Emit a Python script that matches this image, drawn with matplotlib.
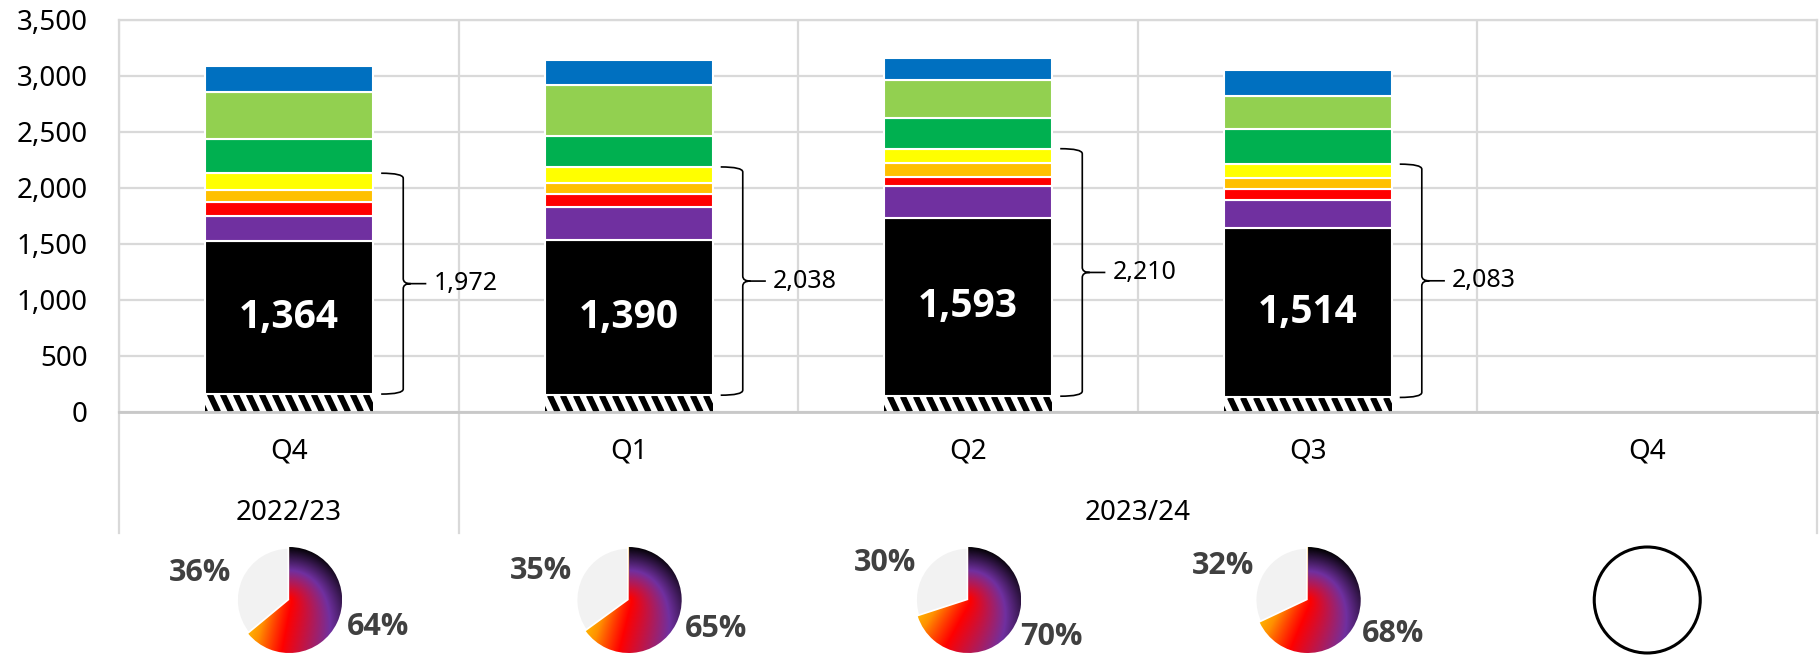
import numpy as np
import matplotlib
matplotlib.use("Agg")
import matplotlib.pyplot as plt
import matplotlib.transforms as mtransforms
from matplotlib.colors import LinearSegmentedColormap
from matplotlib.path import Path
from matplotlib.patches import PathPatch, Circle
from matplotlib.collections import LineCollection

plt.rcParams['font.family'] = ['Noto Sans', 'DejaVu Sans']
bold_family = ['Open Sans', 'Lato', 'DejaVu Sans']

# ---- data ----
quarters = ['Q4', 'Q1', 'Q2', 'Q3', 'Q4']
years = ['2022/23', '2023/24']
year_first = [0, 1]
year_last = [0, 4]

# stacked segments bottom -> top, only the first four quarters have data
hatched = [160, 150, 141, 130]
black = [1364, 1390, 1593, 1514]
purple = [230, 287, 287, 246]
red = [122, 122, 80, 101]
orange = [110, 99, 119, 95]
yellow = [146, 140, 131, 127]
dgreen = [303, 279, 274, 311]
lgreen = [425, 453, 339, 297]
blue = [227, 226, 197, 230]

pie_share = [64, 65, 70, 68]   # % shown in the small pies

seg_colors = ['#000000', '#7030A0', '#FF0000', '#FFC000', '#FFFF00',
              '#00B050', '#92D050', '#0070C0']
grid_col = '#D9D9D9'

# ---- main chart ----
W, H = 1820, 662
fig = plt.figure(figsize=(W / 100, H / 100), dpi=100)
ax = fig.add_axes([119.4 / W, 1 - 412 / H, (1817 - 119.4) / W, 392 / H])

x = np.arange(len(hatched))
bw = 0.495
hbars = ax.bar(x, hatched, bw, color='white', linewidth=0, zorder=2)
bottom = np.array(hatched, dtype=float)
for vals, col in zip([black, purple, red, orange, yellow, dgreen, lgreen, blue], seg_colors):
    ax.bar(x, vals, bw, bottom=bottom, color=col, edgecolor='white', linewidth=1.5, zorder=3)
    bottom += np.array(vals)

ax.set_xlim(-0.5, len(quarters) - 0.5)
ax.set_ylim(0, 3500)
ax.set_yticks(np.arange(0, 3501, 500))
ax.set_yticklabels([f"{v:,}" for v in range(0, 3501, 500)], fontsize=20)
ax.tick_params(axis='y', length=0, pad=23)
ax.set_xticks([])
ax.set_xticks(np.arange(-0.5, len(quarters)), minor=True)
ax.tick_params(axis='x', which='both', length=0)
ax.grid(True, axis='y', color=grid_col, lw=1.6)
ax.grid(True, axis='x', which='minor', color=grid_col, lw=1.6)
ax.set_axisbelow(True)
for side in ['left', 'top', 'right']:
    ax.spines[side].set_color(grid_col)
    ax.spines[side].set_linewidth(1.6)
ax.spines['bottom'].set_color('#C8C8C8')
ax.spines['bottom'].set_linewidth(2)

# steep diagonal stripes on the bottom segment (drawn in pixel space)
for rect in hbars:
    (x0, y0), (x1, y1) = ax.transData.transform([(rect.get_x(), 0),
                                                 (rect.get_x() + rect.get_width(), rect.get_height())])
    hgt = y1 - y0
    run = hgt * 8 / 17
    segs = [[(sx, y1), (sx + run, y0)] for sx in np.arange(x0 - run, x1 + 13, 13)]
    lc = LineCollection(segs, colors='black', linewidths=4.3,
                        transform=mtransforms.IdentityTransform(), zorder=2.5)
    ax.add_collection(lc)
    lc.set_clip_path(rect)

tr = mtransforms.blended_transform_factory(ax.transData, ax.transAxes)

# category labels and year groups under the axis
for i, q in enumerate(quarters):
    ax.text(i, -0.102, q, transform=tr, ha='center', va='center', fontsize=20)
for yr, a, b in zip(years, year_first, year_last):
    ax.text((a + b) / 2, -0.258, yr, transform=tr, ha='center', va='center', fontsize=20)
for xb in sorted(set([a - 0.5 for a in year_first] + [b + 0.5 for b in year_last])):
    ax.plot([xb, xb], [0, -0.309], transform=tr, color=grid_col, lw=1.6, clip_on=False)

# white value labels in the black segment
for i in x:
    ax.text(i, hatched[i] + black[i] / 2, f"{black[i]:,}", color='white',
            fontsize=28, fontweight='bold', family=bold_family,
            ha='center', va='center', zorder=5)


def draw_brace(ax, xc, y0, y1, label):
    x0 = xc + 0.271
    xv = xc + 0.336
    xt = xc + 0.404
    d = 45
    dx = 0.022
    ym = (y0 + y1) / 2
    verts = [(x0, y1), (xv, y1), (xv, y1 - d), (xv, ym + d), (xv, ym), (xv + dx, ym),
             (xt, ym),
             (xv + dx, ym), (xv, ym), (xv, ym - d), (xv, y0 + d), (xv, y0), (x0, y0)]
    codes = [Path.MOVETO, Path.CURVE3, Path.CURVE3, Path.LINETO, Path.CURVE3, Path.CURVE3,
             Path.LINETO,
             Path.MOVETO, Path.CURVE3, Path.CURVE3, Path.LINETO, Path.CURVE3, Path.CURVE3]
    ax.add_patch(PathPatch(Path(verts, codes), fill=False, lw=1.2, color='black', zorder=4))
    ax.text(xc + 0.425, ym, label, ha='left', va='center', fontsize=18, zorder=4)


for i in x:
    total = black[i] + purple[i] + red[i] + orange[i] + yellow[i]
    draw_brace(ax, i, hatched[i], hatched[i] + total, f"{total:,}")

# ---- small pies under each quarter ----
grad = LinearSegmentedColormap.from_list(
    'grad', [(0, '#FFD400'), (0.2, '#FF9000'), (0.4, '#FF0000'), (0.72, '#7030A0'), (1, '#000000')])
gx, gy = np.meshgrid(np.linspace(-1, 1, 300), np.linspace(-1, 1, 300))
rr = np.clip(np.hypot(gx, gy), 0, 1)
ang = (90 - np.degrees(np.arctan2(gy, gx))) % 360

pie_px = 130
lim = pie_px / (2 * 53)
pie_cy = 600
for i in range(len(quarters)):
    cx = ax.transData.transform((i, 0))[0]
    pax = fig.add_axes([(cx - pie_px / 2) / W, (H - pie_cy - pie_px / 2) / H, pie_px / W, pie_px / H])
    pax.set_xlim(-lim, lim)
    pax.set_ylim(-lim, lim)
    pax.set_aspect('equal')
    pax.axis('off')
    if i >= len(pie_share):
        pax.add_patch(Circle((0, 0), 1, fill=False, ec='black', lw=2.2))
        continue
    s = pie_share[i]
    wedges, texts = pax.pie([s, 100 - s], startangle=90, counterclock=False,
                            colors=['none', '#F2F2F2'], labels=[f"{s}%", f"{100 - s}%"],
                            labeldistance=1.2,
                            wedgeprops=dict(edgecolor='white', linewidth=2.5),
                            textprops=dict(fontsize=22, fontweight='bold', color='#404040',
                                           family=bold_family))
    a = np.clip(ang / (s / 100 * 360), 0, 1)
    t = np.clip(0.38 + 0.62 * rr - 0.9 * rr * a ** 2, 0, 1)
    im = pax.imshow(t, extent=(-1, 1, -1, 1), origin='lower', cmap=grad, vmin=0, vmax=1, zorder=1)
    im.set_clip_path(wedges[0])
    wedges[0].set_edgecolor('none')
    pax.set_xlim(-lim, lim)
    pax.set_ylim(-lim, lim)

fig.savefig('out.png', dpi=100)
